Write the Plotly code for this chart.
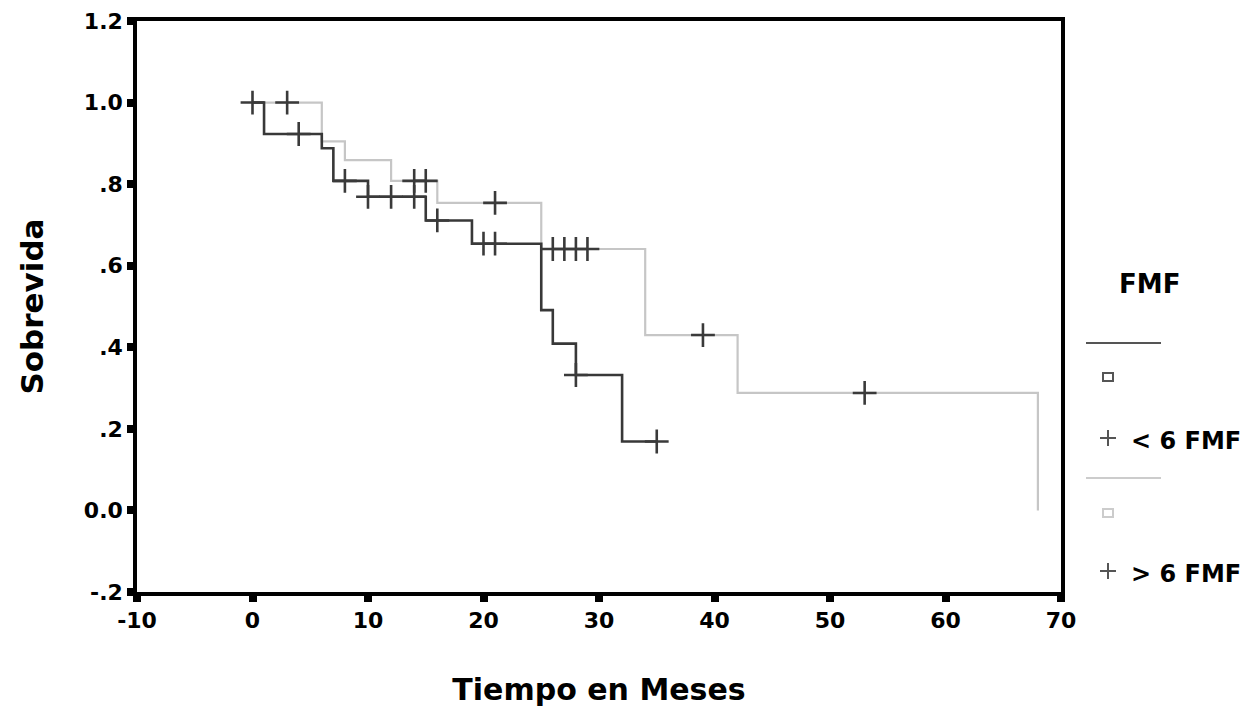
import plotly.graph_objects as go

# ---- data ----
# < 6 FMF (dark curve): step times and survival
low_t = [0, 1, 6, 7, 10, 15, 19, 25, 26, 28, 32, 35]
low_s = [1.0, 0.923, 0.888, 0.808, 0.769, 0.711, 0.654, 0.491, 0.409, 0.332, 0.169, 0.169]
low_cens_t = [0, 4, 8, 10, 12, 14, 16, 20, 21, 28, 35]
low_cens_s = [1.0, 0.923, 0.808, 0.769, 0.769, 0.769, 0.711, 0.654, 0.654, 0.332, 0.169]

# > 6 FMF (light curve)
high_t = [0, 6, 8, 12, 16, 25, 34, 42, 68]
high_s = [1.0, 0.905, 0.859, 0.808, 0.754, 0.641, 0.430, 0.288, 0.0]
high_cens_t = [3, 14, 15, 21, 26, 27, 28, 29, 39, 53]
high_cens_s = [1.0, 0.808, 0.808, 0.754, 0.641, 0.641, 0.641, 0.641, 0.430, 0.288]

y_ticks = [-0.2, 0.0, 0.2, 0.4, 0.6, 0.8, 1.0, 1.2]
y_tick_text = ["-.2", "0.0", ".2", ".4", ".6", ".8", "1.0", "1.2"]
x_ticks = [-10, 0, 10, 20, 30, 40, 50, 60, 70]
x_tick_text = ["-10", "0", "10", "20", "30", "40", "50", "60", "70"]

legend_title = "FMF"
legend_labels = ["< 6 FMF", "> 6 FMF"]

DARK = "#383838"
LIGHT = "#c6c6c6"
MARK = "#3a3a3a"
FONT = "DejaVu Sans"

# page body has an 8px margin: work in figure coordinates
OFF = 8
W, H = 1255 - OFF, 724 - OFF
L, R, T, B = 137 - OFF, 1061 - OFF, 21 - OFF, 592 - OFF

fig = go.Figure()
fig.add_trace(go.Scatter(x=high_t, y=high_s, mode="lines", line=dict(color=LIGHT, width=2.2, shape="hv"),
                         showlegend=False, hoverinfo="skip"))
fig.add_trace(go.Scatter(x=low_t, y=low_s, mode="lines", line=dict(color=DARK, width=2.6, shape="hv"),
                         showlegend=False, hoverinfo="skip"))
fig.add_trace(go.Scatter(x=high_cens_t, y=high_cens_s, mode="markers",
                         marker=dict(symbol="cross-thin", size=17, line=dict(color=MARK, width=2.6)),
                         showlegend=False))
fig.add_trace(go.Scatter(x=low_cens_t, y=low_cens_s, mode="markers",
                         marker=dict(symbol="cross-thin", size=17, line=dict(color=MARK, width=2.6)),
                         showlegend=False))


def px(x):
    # x given in page pixels
    return (x - OFF - L) / (R - L)


def py(y):
    return (B - (y - OFF)) / (B - T)


shapes = []
annotations = []


def hline(x0, x1, y, color, width):
    shapes.append(dict(type="line", xref="paper", yref="paper", x0=px(x0), x1=px(x1), y0=py(y), y1=py(y),
                       line=dict(color=color, width=width)))


def vline(x, y0, y1, color, width):
    shapes.append(dict(type="line", xref="paper", yref="paper", x0=px(x), x1=px(x), y0=py(y0), y1=py(y1),
                       line=dict(color=color, width=width)))


def square(cx, cy, color):
    shapes.append(dict(type="rect", xref="paper", yref="paper", x0=px(cx - 5), x1=px(cx + 5),
                       y0=py(cy + 4), y1=py(cy - 4), line=dict(color=color, width=2)))


def plus(cx, cy, color):
    hline(cx - 8, cx + 8, cy, color, 2)
    vline(cx, cy - 8, cy + 8, color, 2)


# legend block
annotations.append(dict(text="<b>" + legend_title + "</b>", xref="paper", yref="paper", x=px(1149), y=py(284),
                        showarrow=False, font=dict(family=FONT, size=26, color="black"),
                        xanchor="center", yanchor="middle"))
hline(1086, 1161, 343, "#555555", 2)
square(1108, 377, "#555555")
plus(1108, 438, "#555555")
annotations.append(dict(text="<b>" + legend_labels[0] + "</b>", xref="paper", yref="paper", x=px(1129), y=py(441),
                        showarrow=False, font=dict(family=FONT, size=24, color="black"),
                        xanchor="left", yanchor="middle"))
hline(1086, 1161, 478, "#cccccc", 2)
square(1108, 513, "#cccccc")
plus(1108, 571, "#555555")
annotations.append(dict(text="<b>" + legend_labels[1] + "</b>", xref="paper", yref="paper", x=px(1129), y=py(574),
                        showarrow=False, font=dict(family=FONT, size=24, color="black"),
                        xanchor="left", yanchor="middle"))

fig.update_layout(
    width=W, height=H,
    margin=dict(l=L, r=W - R, t=T, b=H - B, pad=0, autoexpand=False),
    paper_bgcolor="white", plot_bgcolor="white",
    showlegend=False,
    shapes=shapes, annotations=annotations,
    font=dict(family=FONT, color="black"),
)
fig.update_xaxes(range=[-10, 70], tickvals=x_ticks, ticktext=x_tick_text, ticks="outside", ticklen=6,
                 tickwidth=8, tickcolor="black", automargin=False,
                 showline=True, linecolor="black", linewidth=3.5, mirror=True, showgrid=False, zeroline=False,
                 tickfont=dict(family=FONT, size=22, color="black", weight="bold"),
                 title=dict(text="<b>Tiempo en Meses</b>", font=dict(family=FONT, size=30, color="black"),
                            standoff=48))
fig.update_yaxes(range=[-0.2, 1.2], tickvals=y_ticks, ticktext=y_tick_text, ticks="outside", ticklen=6,
                 tickwidth=8, tickcolor="black", automargin=False,
                 showline=True, linecolor="black", linewidth=3.5, mirror=True, showgrid=False, zeroline=False,
                 tickfont=dict(family=FONT, size=22, color="black", weight="bold"),
                 title=dict(text="<b>Sobrevida</b>", font=dict(family=FONT, size=31, color="black"),
                            standoff=32))

fig.write_html("out.html")
